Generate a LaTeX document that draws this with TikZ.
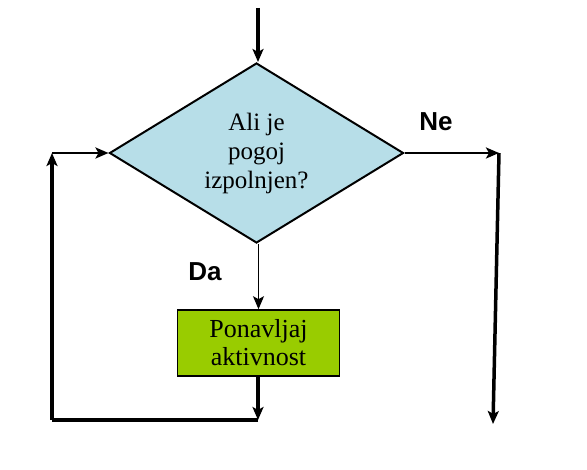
\documentclass[tikz,border=0pt]{standalone}
\usepackage{fontspec}
\setmainfont{Liberation Serif}
\newfontfamily\labelfont{Liberation Sans}
\usetikzlibrary{shapes.geometric,arrows.meta}
\definecolor{condblue}{HTML}{B7DEE8}
\definecolor{actgreen}{HTML}{99CC00}
\tikzset{
  arr/.style={-{Stealth[length=13pt,width=11pt,inset=3pt]}},
  cond/.style={diamond,draw,line width=2pt,fill=condblue,aspect=1.63,
    minimum width=294pt,minimum height=180pt,inner sep=0pt,align=center,
    font=\fontsize{25}{29}\selectfont},
  actbox/.style={rectangle,draw,line width=1.6pt,fill=actgreen,
    minimum width=162pt,minimum height=66pt,align=center,
    font=\fontsize{26}{28}\selectfont},
  answer/.style={font=\labelfont\bfseries\fontsize{26}{30}\selectfont}
}
\begin{document}
\begin{tikzpicture}[x=1pt,y=-1pt]
  \useasboundingbox (0,0) rectangle (587,470);
  % decision and activity
  \node[cond] (test) at (256.5,153) {Ali je\\pogoj\\izpolnjen?};
  \node[actbox] (act) at (258.5,343) {Ponavljaj\\aktivnost};
  \node[answer] (ne) at (436,122) {Ne};
  \node[answer] (da) at (205,272) {Da};
  % corner points
  \coordinate (start) at (258,8);
  \coordinate (exitturn) at (499,153);
  \coordinate (exitend) at (493,424);
  \coordinate (loopbr) at (258,420);
  \coordinate (loopbl) at (52,420);
  \coordinate (looptl) at (52,153);
  % entry and exit
  \draw[arr,line width=3.5pt] (start) -- (start |- test.north);
  \draw[arr,line width=2.5pt] (test.east) -- (exitturn);
  \draw[arr,line width=3.5pt] (exitturn) -- (exitend);
  % loop
  \draw[arr,line width=1.5pt] (act.north |- test.south) -- (act.north);
  \draw[line width=3.5pt] (loopbr) -- (loopbl);
  \draw[arr,line width=3.5pt] (act.south -| loopbr) -- (loopbr);
  \draw[arr,line width=3.5pt] (loopbl) -- (looptl);
  \draw[arr,line width=2.5pt] (looptl) -- (test.west);
\end{tikzpicture}
\end{document}
